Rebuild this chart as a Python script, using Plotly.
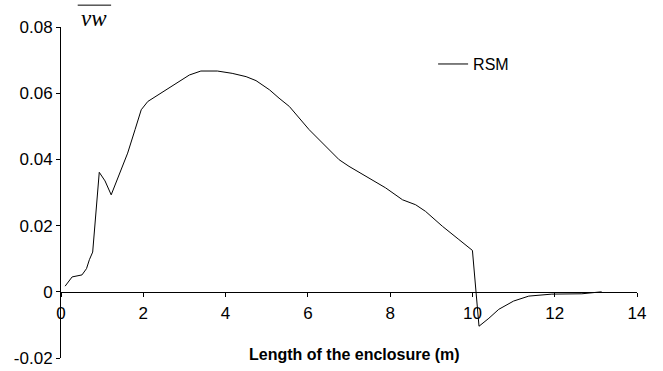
import plotly.graph_objects as go

x_m = [0.1, 0.27, 0.51, 0.62, 0.69, 0.77, 0.93, 1.07, 1.22, 1.42, 1.62, 1.8, 1.95, 2.11, 2.43,
       2.88, 3.12, 3.4, 3.8, 4.16, 4.5, 4.74, 5.07, 5.3, 5.55, 6.03, 6.44, 6.76, 7.0, 7.49,
       7.89, 8.3, 8.62, 8.86, 9.27, 9.67, 10.0, 10.16, 10.4, 10.64, 11.0, 11.37, 11.7, 11.93,
       12.66, 13.14]
vw = [0.0017, 0.0045, 0.0051, 0.0070, 0.0097, 0.0120, 0.0361, 0.0335, 0.0293, 0.0355, 0.0419,
      0.0490, 0.0550, 0.0575, 0.0600, 0.0635, 0.0655, 0.0667, 0.0667, 0.0660, 0.0650, 0.0638,
      0.0610, 0.0585, 0.0560, 0.0490, 0.0439, 0.0399, 0.0379, 0.0344, 0.0314, 0.0278, 0.0263,
      0.0243, 0.0198, 0.0158, 0.0125, -0.0104, -0.0080, -0.0053, -0.0028, -0.0013, -0.0009,
      -0.0007, -0.0006, 0.0]

x_ticks = [0, 2, 4, 6, 8, 10, 12, 14]
y_ticks = [-0.02, 0, 0.02, 0.04, 0.06, 0.08]
y_tick_text = ["-0.02", "0", "0.02", "0.04", "0.06", "0.08"]

fig = go.Figure()
fig.add_trace(go.Scatter(x=x_m, y=vw, mode="lines", name="RSM",
                         line=dict(color="black", width=1)))

fig.update_layout(
    width=663, height=371,
    margin=dict(l=61, r=26, t=27, b=13, autoexpand=False),
    paper_bgcolor="white", plot_bgcolor="white",
    font=dict(family="Liberation Sans, Arial", size=17, color="black"),
    showlegend=True,
    legend=dict(x=0.646, y=0.888, xanchor="left", yanchor="middle",
                bgcolor="rgba(0,0,0,0)", font=dict(size=16),
                itemwidth=30),
    xaxis=dict(range=[0, 14], tickvals=x_ticks, showgrid=False, zeroline=False,
               showline=True, linecolor="black", linewidth=1,
               ticks="outside", ticklen=4, tickcolor="black",
               anchor="free", position=0.2, ticklabelstandoff=2),
    yaxis=dict(range=[-0.02, 0.08], tickvals=y_ticks, ticktext=y_tick_text,
               showgrid=False, zeroline=False, showline=True, linecolor="black",
               linewidth=1, ticks="outside", ticklen=4, tickcolor="black"),
    annotations=[
        dict(text="<b>Length of the enclosure (m)</b>", xref="paper", yref="paper",
             x=0.51, y=0.012, xanchor="center", yanchor="middle", showarrow=False,
             font=dict(size=16, family="Liberation Sans, Arial")),
        dict(text="<i>vw</i>", xref="paper", yref="paper", x=0.057, y=1.025,
             xanchor="center", yanchor="middle", showarrow=False,
             font=dict(size=23, family="Liberation Serif, Times New Roman")),
    ],
    shapes=[
        dict(type="line", xref="paper", yref="paper", x0=0.029, x1=0.087,
             y0=1.066, y1=1.066, line=dict(color="black", width=1)),
    ],
)

fig.write_html("out.html")
